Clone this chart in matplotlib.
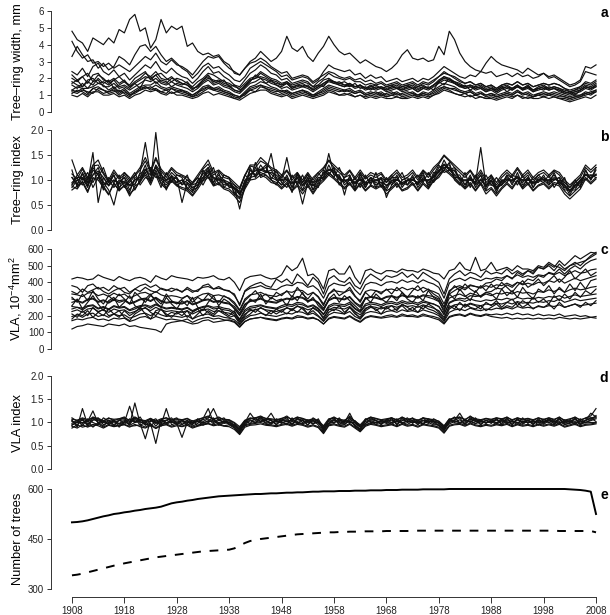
import numpy as np
import matplotlib.pyplot as plt

plt.rcParams['font.family'] = ['Liberation Sans', 'DejaVu Sans']
plt.rcParams['mathtext.fontset'] = 'custom'
plt.rcParams['mathtext.rm'] = 'Liberation Sans'
plt.rcParams['mathtext.it'] = 'Liberation Sans'

years = list(range(1908, 2009))

# a: tree-ring width, mm (a few representative series)
ring_width = [
    [1.0, 0.9, 1.1, 0.9, 1.2, 1.2, 1.0, 1.0, 1.1, 0.9, 1.0, 0.8, 1.0, 1.1, 1.3, 1.2, 1.3, 1.1, 1.0, 1.2,
     1.0, 1.0, 0.9, 0.8, 0.9, 1.1, 1.2, 1.0, 1.1, 1.0, 0.9, 0.8, 0.7, 0.9, 1.1, 1.2, 1.3, 1.3, 1.1, 1.0,
     0.9, 1.0, 0.8, 0.9, 1.0, 0.9, 0.8, 0.9, 1.0, 1.2, 1.1, 1.0, 1.0, 1.1, 0.9, 1.0, 0.8, 0.9, 0.8, 0.9,
     0.8, 0.8, 0.9, 0.8, 0.8, 0.9, 0.8, 0.9, 0.8, 1.0, 1.1, 1.3, 1.2, 1.1, 1.0, 0.9, 1.0, 0.8, 0.9, 0.8,
     0.8, 0.7, 0.8, 0.9, 0.8, 1.0, 0.8, 0.9, 0.8, 0.8, 0.9, 0.8, 0.9, 0.8, 0.7, 0.6, 0.7, 0.8, 0.9, 0.8, 1.0],
    [1.3, 1.2, 1.4, 1.1, 1.4, 1.5, 1.3, 1.2, 1.4, 1.1, 1.3, 1.0, 1.2, 1.4, 1.5, 1.4, 1.6, 1.4, 1.3, 1.4,
     1.3, 1.2, 1.1, 0.9, 1.1, 1.4, 1.5, 1.3, 1.4, 1.2, 1.1, 0.9, 0.8, 1.1, 1.4, 1.5, 1.6, 1.5, 1.4, 1.3,
     1.1, 1.2, 1.0, 1.1, 1.2, 1.1, 0.9, 1.1, 1.3, 1.5, 1.4, 1.3, 1.2, 1.3, 1.1, 1.2, 1.0, 1.1, 1.0, 1.1,
     0.9, 1.0, 1.1, 0.9, 1.0, 1.1, 0.9, 1.1, 1.0, 1.2, 1.4, 1.5, 1.4, 1.4, 1.2, 1.1, 1.2, 1.0, 1.1, 0.9,
     1.0, 0.9, 1.0, 1.1, 1.0, 1.2, 1.0, 1.1, 0.9, 1.0, 1.1, 1.0, 1.1, 1.0, 0.9, 0.8, 0.9, 0.9, 1.1, 1.0, 1.2],
    [1.6, 1.4, 1.7, 1.4, 1.8, 1.9, 1.5, 1.5, 1.7, 1.4, 1.5, 1.3, 1.5, 1.7, 1.9, 1.8, 2.0, 1.7, 1.6, 1.8,
     1.6, 1.5, 1.4, 1.2, 1.4, 1.7, 1.9, 1.6, 1.7, 1.5, 1.4, 1.2, 1.1, 1.4, 1.7, 1.8, 2.0, 1.9, 1.7, 1.6,
     1.4, 1.5, 1.3, 1.4, 1.5, 1.4, 1.2, 1.4, 1.6, 1.8, 1.7, 1.6, 1.5, 1.6, 1.4, 1.5, 1.3, 1.4, 1.3, 1.4,
     1.2, 1.3, 1.4, 1.2, 1.3, 1.4, 1.2, 1.4, 1.3, 1.5, 1.7, 1.9, 1.8, 1.7, 1.5, 1.4, 1.5, 1.3, 1.4, 1.2,
     1.3, 1.1, 1.3, 1.4, 1.3, 1.5, 1.3, 1.4, 1.2, 1.3, 1.4, 1.3, 1.4, 1.3, 1.1, 1.0, 1.1, 1.2, 1.4, 1.3, 1.5],
    [2.0, 1.8, 2.1, 1.7, 2.2, 2.3, 1.9, 1.8, 2.0, 1.7, 1.9, 1.5, 1.8, 2.0, 2.3, 2.1, 2.4, 2.0, 1.9, 2.1,
     1.8, 1.7, 1.6, 1.3, 1.6, 1.9, 2.2, 1.8, 1.9, 1.7, 1.6, 1.3, 1.2, 1.6, 1.9, 2.0, 2.3, 2.1, 1.9, 1.8,
     1.6, 1.7, 1.4, 1.5, 1.6, 1.5, 1.3, 1.5, 1.7, 1.9, 1.8, 1.7, 1.6, 1.7, 1.5, 1.6, 1.4, 1.5, 1.4, 1.5,
     1.3, 1.4, 1.5, 1.3, 1.4, 1.5, 1.3, 1.5, 1.4, 1.6, 1.8, 2.0, 1.9, 1.8, 1.6, 1.5, 1.6, 1.4, 1.5, 1.3,
     1.4, 1.2, 1.4, 1.5, 1.4, 1.6, 1.4, 1.5, 1.3, 1.4, 1.5, 1.4, 1.5, 1.4, 1.2, 1.1, 1.2, 1.3, 1.5, 1.4, 1.6],
    [2.4, 2.2, 2.6, 2.1, 2.7, 2.9, 2.4, 2.2, 2.5, 2.1, 2.3, 1.9, 2.2, 2.5, 2.8, 2.6, 3.0, 2.5, 2.3, 2.6,
     2.3, 2.1, 2.0, 1.7, 2.0, 2.4, 2.7, 2.3, 2.4, 2.1, 1.9, 1.6, 1.5, 1.9, 2.3, 2.5, 2.8, 2.6, 2.3, 2.2,
     1.9, 2.0, 1.7, 1.8, 1.9, 1.8, 1.5, 1.8, 2.0, 2.3, 2.1, 2.0, 1.9, 2.0, 1.8, 1.8, 1.6, 1.7, 1.6, 1.7,
     1.5, 1.6, 1.7, 1.5, 1.6, 1.7, 1.5, 1.7, 1.6, 1.8, 2.1, 2.4, 2.2, 2.1, 1.9, 1.7, 1.8, 1.6, 1.7, 1.5,
     1.6, 1.4, 1.6, 1.7, 1.6, 1.8, 1.6, 1.7, 1.5, 1.6, 1.7, 1.6, 1.7, 1.6, 1.4, 1.2, 1.3, 1.5, 1.8, 1.7, 1.9],
    [1.3, 1.5, 1.4, 1.4, 1.5, 1.7, 1.6, 1.3, 1.5, 1.2, 1.4, 1.1, 1.3, 1.5, 1.6, 1.6, 1.8, 1.5, 1.4, 1.5,
     1.4, 1.3, 1.2, 1.0, 1.2, 1.5, 1.6, 1.4, 1.5, 1.3, 1.2, 1.0, 0.9, 1.2, 1.5, 1.6, 1.8, 1.7, 1.5, 1.4,
     1.2, 1.3, 1.1, 1.2, 1.3, 1.2, 1.0, 1.2, 1.4, 1.6, 1.5, 1.4, 1.3, 1.4, 1.2, 1.3, 1.1, 1.2, 1.1, 1.2,
     1.0, 1.1, 1.2, 1.0, 1.1, 1.2, 1.0, 1.2, 1.1, 1.3, 1.5, 1.7, 1.6, 1.5, 1.3, 1.2, 1.3, 1.1, 1.2, 1.0,
     1.1, 1.0, 1.1, 1.2, 1.1, 1.3, 1.1, 1.2, 1.0, 1.1, 1.2, 1.1, 1.2, 1.1, 1.0, 0.9, 1.0, 1.0, 1.2, 1.1, 1.3],
    [1.7, 1.9, 1.5, 1.8, 1.6, 2.0, 1.7, 1.9, 1.4, 1.6, 1.8, 1.5, 1.7, 1.4, 2.0, 2.1, 1.7, 1.9, 1.8, 1.5,
     1.7, 1.6, 1.8, 1.4, 1.5, 1.9, 2.1, 1.7, 1.8, 1.9, 1.5, 1.6, 1.3, 1.5, 1.8, 2.2, 2.0, 1.7, 1.9, 1.6,
     1.5, 1.7, 1.4, 1.6, 1.7, 1.5, 1.4, 1.6, 1.5, 1.9, 1.7, 1.8, 1.6, 1.5, 1.7, 1.4, 1.5, 1.3, 1.5, 1.4,
     1.3, 1.5, 1.4, 1.3, 1.5, 1.4, 1.2, 1.4, 1.5, 1.3, 1.8, 1.6, 2.0, 1.7, 1.5, 1.6, 1.3, 1.5, 1.4, 1.2,
     1.4, 1.3, 1.5, 1.2, 1.4, 1.6, 1.3, 1.5, 1.2, 1.4, 1.3, 1.5, 1.4, 1.2, 1.1, 1.2, 1.0, 1.3, 1.5, 1.4, 1.6],
    [1.1, 1.3, 1.2, 1.0, 1.4, 1.3, 1.1, 1.2, 1.3, 1.0, 1.2, 1.0, 1.1, 1.3, 1.4, 1.5, 1.3, 1.2, 1.1, 1.4,
     1.2, 1.1, 1.0, 0.9, 1.0, 1.2, 1.4, 1.3, 1.2, 1.1, 1.0, 0.8, 0.9, 1.0, 1.3, 1.2, 1.5, 1.4, 1.2, 1.1,
     1.0, 1.1, 0.9, 1.0, 1.1, 1.0, 0.9, 1.0, 1.1, 1.3, 1.2, 1.0, 1.1, 1.0, 0.9, 1.0, 0.9, 1.0, 0.9, 1.0,
     0.9, 1.0, 0.9, 0.8, 0.9, 1.0, 0.9, 1.0, 0.9, 1.0, 1.2, 1.4, 1.3, 1.1, 1.0, 1.1, 0.9, 1.0, 0.9, 0.8,
     0.9, 0.8, 0.9, 1.0, 0.9, 1.0, 0.9, 0.8, 0.9, 1.0, 0.9, 1.0, 0.9, 0.8, 0.8, 0.7, 0.8, 0.9, 1.0, 1.1, 1.2],
    [2.2, 1.9, 2.1, 2.3, 1.8, 2.2, 2.0, 1.7, 1.9, 2.1, 1.8, 1.6, 2.0, 2.2, 2.4, 1.9, 2.2, 2.3, 2.0, 1.8,
     2.0, 1.9, 1.7, 1.5, 1.8, 2.0, 2.3, 2.2, 2.0, 1.8, 1.7, 1.5, 1.4, 1.7, 2.0, 2.1, 2.4, 2.2, 2.0, 1.9,
     1.7, 1.8, 1.6, 1.7, 1.8, 1.7, 1.5, 1.6, 1.9, 2.0, 1.8, 1.7, 1.8, 1.6, 1.5, 1.6, 1.4, 1.5, 1.6, 1.4,
     1.5, 1.6, 1.4, 1.5, 1.6, 1.4, 1.5, 1.6, 1.4, 1.6, 1.9, 2.1, 2.0, 1.8, 1.7, 1.5, 1.6, 1.5, 1.6, 1.4,
     1.5, 1.3, 1.5, 1.6, 1.4, 1.5, 1.4, 1.6, 1.3, 1.5, 1.6, 1.4, 1.5, 1.4, 1.3, 1.2, 1.3, 1.4, 1.6, 1.5, 1.7],
    [1.2, 1.1, 1.3, 1.2, 1.1, 1.4, 1.3, 1.1, 1.2, 1.3, 1.1, 0.9, 1.2, 1.3, 1.5, 1.3, 1.4, 1.2, 1.3, 1.1,
     1.2, 1.3, 1.1, 1.0, 1.2, 1.3, 1.5, 1.4, 1.3, 1.2, 1.1, 1.0, 0.9, 1.1, 1.3, 1.4, 1.6, 1.4, 1.3, 1.2,
     1.3, 1.2, 1.1, 1.2, 1.3, 1.1, 1.0, 1.1, 1.2, 1.4, 1.3, 1.2, 1.3, 1.2, 1.1, 1.2, 1.0, 1.1, 1.2, 1.0,
     1.1, 1.2, 1.0, 1.1, 1.2, 1.1, 1.0, 1.1, 1.0, 1.1, 1.3, 1.5, 1.4, 1.3, 1.2, 1.1, 1.2, 1.0, 1.1, 1.0,
     1.1, 0.9, 1.0, 1.1, 1.0, 1.2, 1.1, 1.0, 0.9, 1.1, 1.0, 1.1, 1.0, 0.9, 0.9, 0.8, 0.9, 1.0, 1.1, 1.2, 1.3],
    [1.8, 1.6, 1.5, 1.9, 2.0, 1.7, 1.8, 1.6, 1.9, 1.5, 1.6, 1.4, 1.7, 1.9, 2.1, 2.0, 2.2, 1.8, 1.7, 2.0,
     1.9, 1.7, 1.6, 1.4, 1.5, 1.8, 2.0, 1.9, 1.8, 1.6, 1.5, 1.3, 1.2, 1.5, 1.9, 2.0, 2.1, 2.0, 1.8, 1.7,
     1.6, 1.8, 1.5, 1.6, 1.5, 1.6, 1.3, 1.5, 1.7, 1.9, 1.8, 1.6, 1.5, 1.7, 1.5, 1.6, 1.4, 1.6, 1.4, 1.5,
     1.4, 1.5, 1.6, 1.4, 1.5, 1.6, 1.4, 1.5, 1.4, 1.6, 1.8, 2.1, 1.9, 1.7, 1.6, 1.4, 1.5, 1.4, 1.5, 1.3,
     1.4, 1.2, 1.4, 1.5, 1.3, 1.5, 1.4, 1.5, 1.3, 1.4, 1.5, 1.3, 1.4, 1.3, 1.2, 1.1, 1.2, 1.3, 1.5, 1.4, 1.5],
    [4.8, 4.3, 4.1, 3.6, 4.4, 4.2, 4.0, 4.4, 4.1, 4.9, 4.7, 5.5, 5.8, 4.8, 5.0, 3.8, 4.3, 5.5, 4.7, 5.1,
     4.9, 5.1, 3.9, 4.1, 3.6, 3.4, 3.5, 3.3, 3.4, 3.0, 2.8, 2.3, 2.2, 2.6, 2.9, 3.0, 3.2, 3.0, 2.7, 2.5,
     2.3, 2.4, 2.0, 2.1, 2.2, 2.1, 1.8, 2.0, 2.2, 2.4, 2.3, 2.1, 2.0, 2.1, 1.9, 2.0, 1.8, 1.9, 1.7, 1.8,
     1.6, 1.7, 1.8, 1.6, 1.7, 1.8, 1.6, 1.8, 1.7, 1.9, 2.1, 2.3, 2.2, 2.0, 1.8, 1.7, 1.8, 1.6, 1.7, 1.5,
     1.6, 1.4, 1.6, 1.7, 1.6, 1.8, 1.6, 1.7, 1.5, 1.6, 1.7, 1.6, 1.7, 1.6, 1.4, 1.3, 1.4, 1.5, 1.7, 1.6, 1.8],
    [4.2, 3.6, 3.2, 3.4, 2.9, 3.0, 2.7, 2.9, 2.6, 2.8, 2.6, 2.4, 2.7, 3.0, 3.3, 3.1, 3.5, 3.0, 2.8, 3.1,
     2.8, 2.7, 2.5, 2.2, 2.6, 3.0, 3.3, 3.2, 3.3, 2.9, 2.6, 2.4, 2.2, 2.6, 3.0, 3.2, 3.6, 3.3, 3.0, 3.2,
     3.6, 4.5, 3.8, 3.6, 3.9, 3.3, 3.0, 3.5, 3.9, 4.5, 4.0, 3.6, 3.4, 3.5, 3.2, 2.9, 3.1, 2.9, 2.7, 2.6,
     2.4, 2.6, 2.9, 3.4, 3.7, 3.2, 3.1, 3.2, 3.0, 3.1, 3.9, 3.4, 4.8, 4.3, 3.5, 3.0, 2.7, 2.5, 2.4, 2.3,
     2.4, 2.1, 2.2, 2.3, 2.1, 2.3, 2.1, 2.2, 2.0, 2.1, 2.3, 2.1, 2.2, 2.0, 1.8, 1.6, 1.7, 1.9, 2.7, 2.6, 2.8],
    [3.3, 3.9, 3.4, 3.0, 3.1, 2.6, 2.9, 2.5, 2.7, 3.3, 3.1, 2.8, 3.4, 3.9, 4.0, 3.6, 3.9, 3.4, 3.0, 3.2,
     2.9, 2.6, 2.4, 2.0, 2.3, 2.7, 2.9, 2.6, 2.7, 2.4, 2.2, 1.9, 1.8, 2.1, 2.6, 2.8, 3.0, 2.8, 2.6, 2.4,
     2.1, 2.2, 1.9, 2.0, 2.1, 2.0, 1.7, 1.9, 2.4, 2.8, 2.6, 2.5, 2.4, 2.5, 2.2, 2.3, 2.0, 2.2, 2.0, 2.1,
     1.8, 1.9, 2.0, 1.8, 1.9, 2.0, 1.8, 2.0, 1.9, 2.1, 2.4, 2.7, 2.5, 2.3, 2.1, 2.0, 2.2, 2.1, 2.4, 2.9,
     3.3, 3.0, 2.8, 2.7, 2.6, 2.5, 2.3, 2.6, 2.4, 2.2, 2.3, 2.0, 2.1, 1.9, 1.7, 1.5, 1.6, 1.8, 2.4, 2.3, 2.2],
]

# b: tree-ring index
ring_index = [
    [0.88, 0.82, 0.98, 0.78, 1.02, 1.05, 0.88, 0.72, 0.92, 0.80, 0.88, 0.72, 0.82, 0.98, 1.10, 0.90, 1.15, 0.92, 0.82, 0.98,
     0.88, 0.82, 0.78, 0.68, 0.82, 0.98, 1.05, 0.88, 0.92, 0.82, 0.78, 0.68, 0.55, 0.82, 1.00, 1.02, 1.10, 1.05, 0.95, 0.92,
     0.82, 0.92, 0.78, 0.88, 0.72, 0.88, 0.72, 0.88, 0.98, 1.10, 1.02, 0.92, 0.82, 0.92, 0.78, 0.92, 0.78, 0.88, 0.82, 0.88,
     0.72, 0.82, 0.92, 0.78, 0.82, 0.92, 0.78, 0.92, 0.82, 0.98, 1.05, 1.20, 1.12, 1.02, 0.92, 0.82, 0.92, 0.78, 0.92, 0.72,
     0.82, 0.68, 0.82, 0.92, 0.82, 0.98, 0.82, 0.92, 0.78, 0.88, 0.92, 0.82, 0.92, 0.88, 0.72, 0.62, 0.72, 0.82, 1.02, 0.92, 1.02],
    [1.12, 1.02, 1.22, 1.00, 1.28, 1.30, 1.12, 0.95, 1.15, 1.02, 1.10, 0.95, 1.08, 1.20, 1.38, 1.15, 1.42, 1.18, 1.05, 1.22,
     1.10, 1.08, 1.00, 0.92, 1.05, 1.22, 1.32, 1.10, 1.18, 1.05, 1.02, 0.90, 0.82, 1.08, 1.28, 1.25, 1.38, 1.32, 1.22, 1.15,
     1.05, 1.18, 1.00, 1.12, 0.95, 1.12, 0.95, 1.10, 1.22, 1.38, 1.25, 1.15, 1.05, 1.18, 1.00, 1.15, 1.02, 1.10, 1.05, 1.12,
     0.95, 1.05, 1.15, 1.00, 1.05, 1.15, 1.00, 1.18, 1.05, 1.20, 1.32, 1.48, 1.38, 1.25, 1.15, 1.05, 1.18, 1.00, 1.15, 0.95,
     1.05, 0.90, 1.05, 1.15, 1.05, 1.22, 1.05, 1.15, 1.00, 1.10, 1.15, 1.05, 1.18, 1.10, 0.95, 0.85, 0.95, 1.05, 1.25, 1.15, 1.25],
    [0.95, 1.05, 1.05, 0.85, 1.20, 1.10, 0.95, 0.80, 0.50, 0.95, 1.05, 0.80, 1.00, 1.05, 1.30, 0.95, 1.95, 1.00, 0.90, 1.05,
     0.95, 1.00, 0.85, 0.75, 1.00, 1.05, 1.15, 1.05, 1.00, 0.90, 0.95, 0.75, 0.65, 1.00, 1.10, 1.20, 1.20, 1.25, 1.05, 1.00,
     0.90, 1.10, 0.85, 1.05, 0.80, 1.05, 0.80, 0.95, 1.15, 1.20, 1.20, 1.00, 1.00, 1.00, 0.95, 1.00, 0.85, 1.05, 0.90, 0.95,
     0.80, 1.00, 1.00, 0.95, 0.90, 1.10, 0.85, 1.00, 1.00, 1.05, 1.25, 1.30, 1.30, 1.10, 1.10, 0.90, 1.10, 0.85, 1.00, 0.90,
     0.90, 0.85, 0.90, 1.10, 0.90, 1.15, 0.90, 1.00, 0.95, 0.95, 1.10, 0.90, 1.00, 1.05, 0.80, 0.80, 0.80, 1.00, 1.10, 1.10, 1.10],
    [1.05, 0.90, 1.15, 0.95, 1.55, 0.55, 1.05, 0.90, 1.10, 0.85, 0.95, 0.90, 0.90, 1.15, 1.75, 1.10, 1.25, 1.10, 1.00, 1.15,
     1.05, 0.55, 0.95, 0.85, 0.90, 1.15, 1.25, 0.95, 1.10, 1.00, 0.85, 0.85, 0.42, 0.90, 1.20, 1.10, 1.30, 1.15, 1.15, 1.10,
     1.00, 1.45, 0.95, 0.95, 0.52, 0.95, 0.90, 1.05, 1.05, 1.30, 1.10, 1.10, 0.70, 1.10, 0.85, 1.10, 0.95, 0.95, 1.00, 1.05,
     0.65, 0.90, 1.10, 0.85, 1.00, 1.00, 0.95, 1.10, 0.90, 1.15, 1.15, 1.40, 1.20, 1.20, 1.00, 1.00, 1.00, 0.95, 1.10, 0.80,
     1.00, 0.75, 1.00, 1.00, 1.00, 1.05, 1.00, 1.10, 0.85, 1.05, 1.00, 1.00, 1.10, 0.95, 0.90, 0.70, 0.90, 0.90, 1.20, 1.00, 1.20],
    [0.92, 1.00, 1.05, 0.95, 1.10, 1.25, 0.95, 0.90, 1.00, 0.95, 1.05, 0.90, 1.00, 1.05, 1.20, 1.10, 1.25, 1.10, 1.00, 1.05,
     0.95, 1.00, 0.95, 0.85, 0.90, 1.05, 1.25, 1.05, 1.00, 1.00, 0.95, 0.85, 0.75, 0.90, 1.20, 1.10, 1.20, 1.15, 1.53, 1.00,
     0.90, 1.00, 0.95, 1.05, 0.90, 1.05, 0.80, 1.05, 1.05, 1.53, 1.10, 1.10, 0.90, 1.00, 0.95, 1.00, 0.95, 1.05, 1.00, 0.95,
     0.90, 0.95, 1.00, 0.95, 1.00, 1.00, 0.95, 1.00, 1.00, 1.05, 1.15, 1.30, 1.20, 1.10, 1.00, 1.00, 1.00, 0.95, 1.65, 0.90,
     1.00, 0.85, 0.90, 1.00, 1.00, 1.05, 1.00, 1.00, 0.95, 1.00, 1.00, 1.00, 1.00, 1.05, 0.90, 0.80, 0.90, 1.00, 1.10, 1.05, 1.10],
    [0.80, 0.88, 0.95, 0.75, 1.05, 1.00, 0.85, 0.70, 0.95, 0.78, 0.90, 0.68, 0.88, 0.95, 1.15, 0.95, 1.20, 0.95, 0.85, 1.00,
     0.90, 0.85, 0.82, 0.70, 0.88, 1.00, 1.10, 0.90, 0.95, 0.85, 0.82, 0.72, 0.62, 0.85, 1.05, 1.08, 1.15, 1.10, 1.00, 0.95,
     0.85, 0.95, 0.80, 0.92, 0.78, 0.92, 0.75, 0.92, 1.02, 1.15, 1.05, 0.95, 0.85, 0.95, 0.80, 0.95, 0.80, 0.90, 0.85, 0.90,
     0.78, 0.85, 0.95, 0.80, 0.85, 0.95, 0.80, 0.95, 0.85, 1.00, 1.10, 1.25, 1.15, 1.05, 0.95, 0.85, 0.95, 0.80, 0.95, 0.78,
     0.85, 0.72, 0.85, 0.95, 0.85, 1.00, 0.85, 0.95, 0.80, 0.90, 0.95, 0.85, 0.95, 0.92, 0.78, 0.68, 0.78, 0.88, 1.05, 0.95, 1.05],
    [1.40, 1.10, 1.25, 1.05, 1.30, 1.40, 1.15, 1.00, 1.20, 1.05, 1.15, 1.00, 1.10, 1.25, 1.45, 1.20, 1.45, 1.22, 1.10, 1.25,
     1.15, 1.10, 1.05, 0.95, 1.10, 1.25, 1.40, 1.15, 1.20, 1.10, 1.05, 0.95, 0.85, 1.10, 1.30, 1.30, 1.45, 1.35, 1.25, 1.20,
     1.10, 1.20, 1.05, 1.15, 1.00, 1.15, 1.00, 1.15, 1.25, 1.40, 1.30, 1.20, 1.10, 1.20, 1.05, 1.20, 1.05, 1.15, 1.10, 1.15,
     1.00, 1.10, 1.20, 1.05, 1.10, 1.20, 1.05, 1.20, 1.10, 1.25, 1.35, 1.50, 1.40, 1.30, 1.20, 1.10, 1.20, 1.05, 1.20, 1.00,
     1.10, 0.95, 1.10, 1.20, 1.10, 1.25, 1.10, 1.20, 1.05, 1.15, 1.20, 1.10, 1.20, 1.15, 1.00, 0.90, 1.00, 1.10, 1.30, 1.20, 1.30],
    [1.05, 0.92, 1.12, 0.88, 1.10, 1.18, 1.05, 0.88, 1.00, 0.92, 0.98, 0.88, 0.92, 1.12, 1.22, 1.02, 1.28, 1.02, 0.98, 1.08,
     1.02, 0.92, 0.92, 0.78, 0.98, 1.12, 1.18, 1.02, 1.02, 0.98, 0.88, 0.82, 0.72, 0.98, 1.12, 1.18, 1.22, 1.18, 1.12, 1.02,
     0.98, 1.02, 0.92, 0.98, 0.88, 0.98, 0.88, 0.98, 1.12, 1.22, 1.18, 1.02, 0.98, 1.02, 0.92, 1.02, 0.92, 0.98, 0.98, 1.02,
     0.88, 0.98, 1.02, 0.92, 0.98, 1.02, 0.92, 1.02, 0.98, 1.08, 1.18, 1.32, 1.22, 1.18, 1.02, 0.98, 1.02, 0.92, 1.02, 0.88,
     0.98, 0.82, 0.98, 1.02, 0.98, 1.08, 0.98, 1.02, 0.92, 0.98, 1.02, 0.98, 1.02, 0.98, 0.88, 0.78, 0.88, 0.98, 1.12, 1.02, 1.12],
    [0.90, 1.10, 1.00, 1.15, 0.85, 1.05, 1.25, 0.95, 1.10, 0.80, 1.15, 1.05, 0.80, 1.00, 1.20, 1.25, 1.10, 0.85, 1.15, 0.95,
     1.10, 1.05, 0.80, 0.95, 1.05, 0.90, 1.10, 1.25, 0.90, 1.10, 1.05, 0.70, 0.80, 1.10, 1.00, 1.35, 1.05, 1.10, 1.00, 1.20,
     0.95, 0.85, 1.10, 0.90, 1.10, 0.85, 1.05, 1.15, 1.00, 1.15, 1.05, 1.25, 1.00, 0.90, 1.05, 0.85, 1.10, 0.90, 1.15, 0.85,
     1.05, 0.90, 1.00, 1.15, 0.90, 1.00, 1.10, 0.95, 1.15, 0.95, 1.10, 1.20, 1.35, 1.00, 0.90, 1.15, 0.85, 1.10, 0.90, 1.10,
     0.90, 1.05, 0.90, 1.10, 1.05, 0.90, 1.10, 0.90, 1.05, 1.00, 0.95, 1.10, 0.85, 1.00, 0.95, 0.85, 1.00, 0.85, 1.20, 1.00, 1.25],
    [1.20, 0.85, 1.05, 0.90, 1.25, 1.10, 0.80, 1.05, 0.95, 1.10, 0.85, 1.00, 1.15, 0.90, 1.05, 1.00, 1.30, 1.15, 0.80, 1.10,
     0.90, 0.95, 1.10, 0.80, 0.85, 1.20, 1.05, 0.95, 1.15, 0.85, 0.95, 0.90, 0.75, 0.85, 1.25, 1.05, 1.20, 1.30, 1.00, 0.90,
     1.10, 1.00, 0.75, 1.15, 0.95, 1.10, 0.90, 0.85, 1.20, 1.10, 1.25, 0.90, 1.05, 1.10, 0.80, 1.15, 0.85, 1.05, 0.85, 1.05,
     0.95, 1.10, 0.85, 1.00, 1.05, 0.90, 0.95, 1.15, 0.85, 1.10, 1.30, 1.15, 1.20, 1.25, 1.00, 0.85, 1.05, 0.95, 1.10, 0.85,
     1.10, 0.85, 1.00, 0.95, 1.10, 1.05, 0.85, 1.05, 0.95, 1.10, 1.00, 0.90, 1.15, 0.90, 1.05, 0.75, 0.95, 1.05, 1.00, 1.10, 1.05],
    [0.85, 1.00, 0.90, 1.05, 0.95, 1.15, 0.90, 1.00, 0.85, 1.00, 0.95, 0.75, 1.05, 1.00, 1.15, 1.20, 1.05, 1.05, 0.95, 1.00,
     1.05, 0.90, 1.00, 0.90, 0.95, 1.00, 1.20, 0.90, 1.05, 0.95, 0.90, 0.85, 0.70, 0.95, 1.05, 1.25, 1.10, 1.15, 1.20, 1.05,
     1.00, 1.05, 0.85, 1.10, 0.90, 1.00, 0.95, 1.00, 1.05, 1.20, 1.15, 1.05, 0.95, 1.05, 0.95, 1.05, 0.90, 1.00, 0.95, 0.90,
     0.85, 1.05, 1.05, 0.90, 1.00, 1.05, 0.90, 1.05, 0.95, 1.00, 1.20, 1.25, 1.25, 1.05, 1.05, 0.90, 1.05, 0.90, 1.00, 0.90,
     1.00, 0.80, 0.95, 1.05, 0.95, 1.05, 0.95, 1.05, 0.85, 1.00, 1.05, 0.95, 1.05, 0.95, 0.85, 0.80, 0.85, 0.95, 1.10, 1.05, 1.10],
]

# c: vessel lumen area, 10^-4 mm^2
vla = [
    [420, 430, 425, 415, 420, 445, 430, 420, 410, 435, 420, 410, 425, 430, 420, 400, 440, 425, 415, 440,
     430, 425, 420, 410, 430, 425, 430, 440, 420, 415, 430, 400, 350, 420, 435, 440, 445, 430, 420, 425,
     445, 500, 470, 490, 545, 440, 450, 420, 360, 470, 480, 450, 450, 500, 430, 390, 470, 480, 460, 450,
     470, 470, 460, 480, 470, 470, 460, 480, 470, 455, 450, 420, 470, 480, 520, 480, 470, 550, 470, 480,
     520, 470, 480, 490, 470, 500, 480, 480, 470, 500, 490, 520, 500, 490, 470, 500, 510, 520, 530, 550, 570],
    [380, 370, 340, 380, 390, 360, 370, 350, 380, 360, 370, 340, 360, 380, 390, 370, 385, 360, 350, 365,
     355, 345, 360, 340, 355, 370, 375, 360, 365, 355, 350, 320, 270, 345, 365, 370, 380, 365, 360, 355,
     375, 385, 380, 400, 395, 370, 380, 355, 305, 375, 395, 385, 380, 400, 355, 325, 385, 400, 395, 380,
     400, 405, 395, 415, 400, 410, 395, 415, 400, 390, 370, 305, 395, 415, 425, 410, 430, 420, 410, 425,
     420, 430, 425, 440, 425, 445, 430, 440, 430, 445, 440, 455, 445, 460, 440, 455, 470, 455, 460, 475, 480],
    [330, 325, 315, 335, 340, 320, 330, 315, 335, 320, 330, 305, 320, 335, 340, 325, 345, 325, 315, 320,
     315, 305, 320, 300, 315, 330, 335, 320, 325, 315, 305, 280, 235, 300, 325, 330, 340, 325, 320, 315,
     330, 345, 340, 355, 350, 325, 340, 315, 270, 330, 350, 345, 340, 355, 315, 290, 345, 355, 350, 340,
     355, 360, 350, 370, 355, 365, 350, 370, 355, 345, 330, 270, 350, 370, 380, 365, 385, 375, 365, 380,
     370, 385, 380, 395, 380, 400, 385, 395, 385, 400, 395, 410, 400, 420, 395, 410, 425, 410, 420, 430, 440],
    [280, 290, 275, 295, 300, 280, 290, 275, 295, 280, 290, 270, 280, 295, 300, 285, 305, 285, 275, 280,
     275, 270, 285, 265, 275, 290, 295, 280, 285, 275, 270, 245, 205, 265, 285, 290, 300, 285, 280, 275,
     290, 300, 295, 310, 305, 285, 295, 275, 235, 290, 305, 300, 295, 310, 275, 250, 300, 310, 305, 295,
     310, 315, 305, 320, 310, 315, 305, 320, 310, 300, 285, 235, 305, 320, 330, 315, 335, 325, 315, 330,
     320, 335, 330, 340, 330, 345, 335, 340, 330, 345, 340, 355, 345, 360, 340, 355, 365, 355, 360, 370, 375],
    [255, 250, 245, 260, 265, 245, 255, 240, 260, 250, 255, 235, 250, 260, 265, 255, 270, 255, 245, 250,
     245, 240, 250, 230, 245, 255, 260, 250, 255, 245, 240, 220, 180, 235, 255, 260, 265, 255, 250, 245,
     260, 270, 265, 280, 275, 255, 265, 245, 210, 260, 275, 270, 265, 280, 245, 225, 270, 280, 275, 265,
     280, 285, 275, 290, 280, 285, 275, 290, 280, 270, 255, 210, 275, 290, 295, 285, 300, 290, 285, 295,
     290, 300, 295, 305, 295, 310, 300, 305, 300, 310, 305, 315, 310, 320, 305, 315, 325, 315, 320, 325, 330],
    [225, 235, 220, 240, 245, 225, 235, 220, 240, 230, 235, 215, 225, 240, 245, 230, 250, 235, 225, 230,
     225, 220, 230, 210, 225, 235, 240, 225, 230, 220, 215, 200, 165, 210, 230, 235, 245, 235, 230, 225,
     235, 245, 240, 255, 250, 235, 245, 225, 190, 235, 250, 245, 240, 255, 225, 205, 245, 255, 250, 240,
     255, 260, 250, 265, 255, 260, 250, 265, 255, 245, 230, 190, 250, 265, 270, 260, 275, 265, 260, 270,
     265, 275, 270, 280, 270, 285, 275, 280, 275, 285, 280, 290, 285, 300, 280, 290, 300, 290, 295, 300, 305],
    [195, 205, 190, 210, 215, 195, 205, 190, 210, 200, 205, 185, 195, 210, 215, 200, 220, 205, 195, 200,
     195, 190, 200, 180, 195, 205, 210, 195, 200, 190, 185, 175, 145, 180, 200, 205, 215, 205, 200, 195,
     205, 215, 210, 225, 220, 205, 215, 195, 165, 205, 220, 215, 210, 225, 195, 180, 215, 225, 220, 210,
     225, 230, 220, 235, 225, 230, 220, 235, 225, 215, 200, 165, 220, 235, 240, 230, 245, 235, 230, 240,
     235, 245, 240, 250, 240, 255, 245, 250, 245, 255, 250, 260, 255, 265, 250, 260, 270, 260, 265, 270, 275],
    [120, 135, 140, 150, 145, 140, 135, 150, 145, 140, 150, 135, 140, 130, 125, 120, 115, 100, 150, 160,
     165, 170, 160, 150, 155, 170, 175, 160, 165, 170, 175, 165, 135, 165, 180, 185, 190, 180, 175, 170,
     180, 185, 180, 190, 190, 180, 185, 175, 150, 180, 190, 185, 180, 195, 175, 160, 185, 195, 190, 185,
     190, 195, 190, 200, 195, 195, 190, 200, 195, 185, 175, 150, 190, 200, 205, 195, 210, 200, 195, 205,
     195, 190, 185, 190, 180, 185, 180, 185, 180, 185, 180, 185, 180, 190, 185, 180, 185, 180, 185, 190, 195],
    [300, 290, 280, 300, 305, 285, 295, 280, 300, 290, 295, 275, 285, 300, 305, 290, 310, 290, 280, 285,
     280, 275, 290, 270, 280, 295, 300, 285, 290, 280, 275, 255, 215, 270, 290, 295, 305, 290, 285, 280,
     295, 305, 300, 315, 310, 290, 300, 280, 245, 295, 310, 305, 300, 315, 280, 260, 305, 315, 310, 300,
     315, 320, 310, 325, 315, 320, 310, 325, 320, 315, 300, 250, 330, 350, 370, 355, 380, 375, 370, 395,
     400, 420, 410, 440, 420, 460, 440, 470, 450, 490, 480, 510, 490, 530, 500, 530, 560, 540, 560, 580, 575],
    [240, 250, 235, 255, 260, 240, 250, 235, 255, 245, 250, 230, 240, 255, 260, 245, 265, 250, 240, 245,
     240, 235, 245, 225, 240, 250, 255, 240, 245, 235, 230, 210, 175, 225, 245, 250, 260, 250, 245, 240,
     250, 260, 255, 270, 265, 250, 260, 240, 205, 250, 265, 260, 255, 270, 240, 220, 260, 270, 265, 255,
     270, 275, 265, 280, 270, 275, 265, 280, 275, 270, 255, 205, 280, 295, 305, 300, 320, 315, 320, 340,
     345, 365, 360, 385, 370, 400, 390, 420, 410, 440, 430, 460, 450, 480, 450, 480, 500, 480, 510, 530, 540],
    [345, 330, 360, 340, 355, 370, 345, 330, 350, 365, 340, 330, 360, 345, 370, 350, 340, 365, 355, 345,
     360, 340, 370, 350, 345, 380, 390, 360, 375, 355, 345, 330, 260, 350, 375, 390, 400, 380, 370, 420,
     400, 420, 390, 450, 420, 380, 430, 400, 330, 420, 440, 410, 400, 430, 380, 360, 420, 450, 430, 410,
     440, 430, 440, 460, 430, 450, 420, 460, 440, 420, 400, 330, 420, 450, 470, 440, 460, 450, 430, 470,
     450, 460, 450, 480, 450, 470, 450, 470, 460, 490, 480, 500, 470, 510, 480, 500, 520, 500, 530, 560, 580],
    [170, 180, 175, 185, 190, 175, 180, 170, 185, 180, 185, 165, 175, 190, 195, 180, 195, 185, 175, 180,
     175, 170, 180, 160, 175, 185, 190, 180, 185, 175, 170, 160, 130, 165, 180, 185, 190, 185, 180, 175,
     185, 190, 185, 200, 195, 185, 190, 175, 150, 185, 195, 190, 185, 200, 180, 165, 190, 200, 195, 190,
     200, 205, 195, 210, 200, 205, 195, 210, 200, 195, 185, 155, 195, 205, 210, 200, 215, 205, 200, 210,
     205, 210, 205, 215, 205, 215, 205, 210, 200, 210, 200, 205, 200, 210, 195, 200, 205, 195, 200, 190, 185],
    [260, 300, 240, 280, 320, 270, 230, 290, 310, 250, 280, 320, 260, 240, 300, 330, 280, 250, 310, 270,
     240, 290, 260, 310, 250, 230, 280, 320, 260, 300, 280, 240, 200, 250, 300, 280, 330, 270, 310, 290,
     300, 260, 320, 290, 340, 280, 310, 260, 230, 300, 330, 280, 320, 290, 260, 230, 310, 280, 330, 300,
     280, 320, 290, 340, 300, 280, 320, 290, 350, 310, 290, 220, 330, 300, 360, 320, 290, 350, 310, 340,
     330, 300, 360, 320, 350, 310, 370, 330, 300, 360, 340, 380, 330, 370, 340, 390, 350, 400, 360, 410, 420],
    [210, 190, 230, 200, 250, 220, 200, 240, 210, 190, 230, 200, 220, 250, 210, 180, 230, 240, 200, 220,
     210, 230, 190, 220, 240, 200, 230, 210, 250, 220, 200, 230, 160, 200, 240, 220, 250, 230, 210, 240,
     220, 250, 230, 260, 240, 210, 250, 230, 180, 240, 230, 260, 220, 250, 210, 190, 240, 260, 230, 250,
     240, 260, 230, 270, 250, 230, 260, 240, 270, 250, 220, 180, 260, 240, 280, 250, 270, 260, 240, 280,
     260, 290, 250, 280, 300, 260, 290, 270, 310, 280, 300, 270, 320, 290, 330, 300, 340, 310, 350, 330, 360],
    [310, 280, 330, 290, 350, 300, 270, 320, 290, 330, 300, 270, 340, 310, 280, 320, 300, 270, 330, 290,
     270, 300, 320, 280, 310, 290, 330, 300, 280, 320, 300, 270, 230, 290, 320, 350, 310, 330, 300, 340,
     320, 350, 310, 370, 330, 300, 340, 310, 260, 330, 360, 320, 340, 370, 320, 280, 340, 310, 350, 330,
     360, 330, 370, 340, 310, 350, 380, 340, 360, 330, 310, 250, 340, 380, 350, 390, 360, 340, 380, 350,
     390, 360, 400, 370, 340, 380, 410, 370, 390, 420, 380, 410, 440, 400, 430, 470, 420, 450, 480, 440, 460],
    [180, 210, 200, 230, 190, 220, 240, 200, 210, 230, 190, 170, 210, 230, 250, 220, 200, 240, 210, 190,
     220, 200, 230, 180, 210, 240, 220, 200, 230, 210, 190, 200, 150, 190, 210, 240, 220, 200, 230, 210,
     230, 210, 240, 220, 250, 210, 230, 200, 170, 220, 240, 230, 210, 250, 220, 180, 230, 250, 240, 210,
     250, 230, 240, 260, 230, 250, 220, 260, 240, 230, 210, 170, 240, 260, 230, 270, 250, 240, 260, 230,
     250, 270, 240, 260, 250, 280, 250, 270, 240, 260, 250, 270, 240, 280, 250, 260, 270, 250, 280, 260, 290],
]

# d: VLA index
vla_index = [
    [0.92, 0.88, 0.95, 0.90, 0.96, 0.93, 0.88, 0.94, 0.91, 0.93, 0.95, 0.90, 0.96, 0.91, 0.88, 0.94, 0.87, 0.93, 0.95, 0.90,
     0.93, 0.91, 0.94, 0.88, 0.92, 0.95, 0.97, 0.93, 0.95, 0.92, 0.91, 0.85, 0.74, 0.90, 0.94, 0.95, 0.97, 0.94, 0.93, 0.91,
     0.94, 0.96, 0.92, 0.96, 0.94, 0.90, 0.93, 0.89, 0.76, 0.93, 0.95, 0.92, 0.90, 0.96, 0.88, 0.80, 0.92, 0.96, 0.94, 0.91,
     0.93, 0.95, 0.91, 0.96, 0.92, 0.94, 0.90, 0.95, 0.93, 0.91, 0.88, 0.77, 0.92, 0.95, 0.96, 0.92, 0.97, 0.93, 0.91, 0.94,
     0.92, 0.95, 0.93, 0.96, 0.91, 0.95, 0.92, 0.94, 0.91, 0.95, 0.92, 0.95, 0.92, 0.96, 0.90, 0.93, 0.96, 0.91, 0.94, 0.95, 0.97],
    [1.07, 1.05, 1.10, 1.06, 1.10, 1.09, 1.04, 1.09, 1.07, 1.08, 1.10, 1.05, 1.12, 1.06, 1.04, 1.09, 1.03, 1.08, 1.10, 1.05,
     1.08, 1.06, 1.09, 1.03, 1.07, 1.10, 1.12, 1.08, 1.10, 1.07, 1.06, 1.00, 0.91, 1.05, 1.09, 1.10, 1.12, 1.09, 1.08, 1.06,
     1.09, 1.11, 1.07, 1.11, 1.09, 1.05, 1.08, 1.04, 0.93, 1.08, 1.10, 1.07, 1.05, 1.11, 1.03, 0.95, 1.07, 1.11, 1.09, 1.06,
     1.08, 1.10, 1.06, 1.11, 1.07, 1.09, 1.05, 1.10, 1.08, 1.06, 1.03, 0.93, 1.07, 1.10, 1.11, 1.07, 1.12, 1.08, 1.06, 1.09,
     1.07, 1.10, 1.08, 1.11, 1.06, 1.10, 1.07, 1.09, 1.06, 1.10, 1.07, 1.10, 1.07, 1.11, 1.05, 1.08, 1.11, 1.06, 1.09, 1.10, 1.12],
    [1.05, 0.90, 1.30, 0.95, 1.10, 1.00, 0.92, 1.05, 0.95, 1.05, 1.10, 0.95, 1.42, 0.98, 0.65, 1.05, 1.00, 0.95, 1.30, 0.95,
     1.00, 0.95, 1.05, 0.92, 0.98, 1.08, 1.30, 1.00, 1.08, 0.98, 1.00, 0.90, 0.78, 1.00, 1.10, 1.05, 1.10, 1.00, 1.05, 0.95,
     1.05, 1.10, 0.95, 1.08, 1.05, 0.95, 1.05, 0.95, 0.80, 1.05, 1.10, 0.95, 0.95, 1.10, 0.92, 0.85, 1.05, 1.10, 1.05, 0.95,
     1.05, 1.10, 0.95, 1.10, 1.00, 1.05, 0.95, 1.10, 1.00, 0.95, 0.95, 0.85, 1.05, 1.05, 1.10, 0.95, 1.10, 1.05, 0.95, 1.05,
     1.00, 1.08, 0.98, 1.10, 0.95, 1.08, 0.98, 1.05, 0.95, 1.08, 0.98, 1.08, 0.98, 1.10, 0.95, 1.00, 1.10, 0.95, 1.05, 1.08, 1.10],
    [0.95, 1.00, 1.00, 1.02, 1.25, 0.98, 1.00, 0.98, 1.02, 0.97, 1.00, 1.35, 1.00, 1.02, 0.95, 0.98, 0.55, 1.05, 1.00, 1.02,
     0.98, 0.68, 1.00, 1.00, 1.02, 1.00, 1.02, 1.03, 1.00, 1.02, 0.97, 0.95, 0.85, 0.95, 0.98, 1.00, 1.02, 1.05, 0.98, 1.02,
     1.00, 1.02, 1.05, 1.00, 0.98, 1.02, 0.98, 1.00, 0.88, 0.98, 1.00, 1.05, 1.02, 1.00, 1.00, 0.90, 0.95, 1.00, 1.00, 1.02,
     0.98, 1.00, 1.02, 1.00, 1.02, 1.00, 1.02, 0.98, 1.03, 1.02, 1.00, 0.88, 0.97, 1.02, 1.00, 1.05, 1.02, 0.98, 1.02, 0.99,
     1.03, 1.00, 1.04, 1.00, 1.03, 1.00, 1.02, 1.00, 1.03, 1.00, 1.03, 1.00, 1.04, 1.00, 1.02, 1.04, 1.00, 1.03, 0.99, 1.00, 1.00],
    [1.02, 1.00, 1.05, 0.96, 1.06, 1.04, 1.00, 1.05, 1.01, 1.04, 1.06, 1.00, 1.06, 1.01, 0.99, 1.04, 0.98, 1.03, 1.05, 1.00,
     1.03, 1.01, 1.04, 0.98, 1.02, 1.06, 1.10, 1.30, 1.05, 1.02, 1.01, 0.95, 0.85, 1.00, 1.20, 1.05, 1.08, 1.05, 1.20, 1.01,
     1.04, 1.06, 1.02, 1.06, 1.04, 1.00, 1.03, 0.99, 0.87, 1.03, 1.05, 1.02, 1.00, 1.20, 0.98, 0.90, 1.02, 1.06, 1.04, 1.01,
     1.03, 1.05, 1.01, 1.06, 1.02, 1.04, 1.00, 1.05, 1.03, 1.01, 0.98, 0.87, 1.02, 1.05, 1.20, 1.02, 1.07, 1.03, 1.01, 1.04,
     1.02, 1.05, 1.03, 1.06, 1.01, 1.05, 1.02, 1.04, 1.01, 1.05, 1.02, 1.05, 1.02, 1.06, 1.00, 1.03, 1.06, 1.01, 1.04, 1.20, 1.12],
    [0.88, 0.95, 0.90, 0.93, 0.92, 0.97, 0.90, 0.96, 0.92, 0.95, 0.96, 0.92, 0.93, 0.95, 0.90, 0.97, 0.88, 0.96, 0.97, 0.92,
     0.96, 0.92, 0.97, 0.90, 0.94, 0.97, 0.98, 0.95, 0.98, 0.93, 0.95, 0.88, 0.76, 0.93, 0.96, 0.98, 1.00, 0.96, 0.95, 0.93,
     0.96, 0.98, 0.94, 0.98, 0.96, 0.92, 0.95, 0.91, 0.78, 0.95, 0.97, 0.94, 0.92, 0.98, 0.90, 0.82, 0.94, 0.98, 0.96, 0.93,
     0.95, 0.97, 0.93, 0.98, 0.94, 0.96, 0.92, 0.97, 0.95, 0.93, 0.90, 0.79, 0.94, 0.97, 0.98, 0.94, 0.99, 0.95, 0.93, 0.96,
     0.94, 0.97, 0.95, 0.98, 0.93, 0.97, 0.94, 0.96, 0.93, 0.97, 0.94, 0.97, 0.94, 0.98, 0.92, 0.95, 0.98, 0.93, 0.96, 0.97, 0.99],
    [1.10, 1.03, 1.08, 1.02, 1.12, 1.06, 1.02, 1.10, 1.04, 1.08, 1.12, 1.02, 1.10, 1.05, 1.02, 1.08, 1.00, 1.06, 1.10, 1.03,
     1.06, 1.05, 1.08, 1.00, 1.05, 1.10, 1.14, 1.06, 1.12, 1.05, 1.05, 0.98, 0.88, 1.04, 1.08, 1.10, 1.14, 1.08, 1.06, 1.04,
     1.08, 1.14, 1.05, 1.12, 1.08, 1.03, 1.06, 1.02, 0.90, 1.06, 1.12, 1.05, 1.02, 1.14, 1.00, 0.92, 1.05, 1.12, 1.08, 1.04,
     1.06, 1.10, 1.04, 1.12, 1.05, 1.08, 1.03, 1.10, 1.06, 1.04, 1.00, 0.90, 1.05, 1.10, 1.12, 1.05, 1.14, 1.06, 1.04, 1.08,
     1.05, 1.10, 1.06, 1.12, 1.04, 1.10, 1.05, 1.08, 1.04, 1.10, 1.05, 1.10, 1.05, 1.12, 1.03, 1.06, 1.12, 1.04, 1.10, 1.14, 1.30],
    [0.98, 1.05, 0.93, 1.08, 1.00, 0.95, 1.10, 1.03, 0.92, 1.06, 0.96, 1.08, 1.00, 1.12, 0.94, 1.03, 1.08, 0.92, 1.05, 1.10,
     0.95, 1.06, 0.98, 1.04, 0.93, 1.02, 1.08, 0.97, 1.05, 1.10, 0.96, 0.90, 0.80, 0.98, 1.06, 1.00, 1.12, 1.04, 0.96, 1.08,
     1.02, 0.95, 1.10, 0.98, 1.06, 0.94, 1.10, 1.03, 0.84, 0.98, 1.08, 0.96, 1.05, 1.02, 0.95, 0.86, 1.08, 1.02, 0.96, 1.05,
     1.00, 1.08, 0.96, 1.04, 1.10, 0.98, 1.06, 0.95, 1.08, 1.02, 0.93, 0.84, 1.04, 1.12, 0.98, 1.06, 1.00, 1.10, 0.96, 1.05,
     0.98, 1.08, 0.95, 1.06, 1.02, 0.96, 1.10, 0.98, 1.05, 0.94, 1.07, 1.00, 0.95, 1.08, 0.98, 1.03, 0.95, 1.08, 1.00, 1.06, 1.15],
    [1.04, 0.94, 1.08, 0.92, 1.05, 1.10, 0.95, 1.00, 1.06, 0.90, 1.02, 0.96, 1.10, 0.94, 1.00, 1.08, 0.92, 1.05, 0.98, 1.06,
     1.10, 0.96, 1.02, 0.95, 1.08, 0.98, 1.04, 1.10, 0.94, 1.00, 1.04, 0.92, 0.86, 1.04, 0.98, 1.10, 1.02, 1.08, 1.04, 0.96,
     1.08, 1.02, 0.96, 1.10, 1.00, 1.06, 0.96, 1.08, 0.88, 1.04, 0.98, 1.10, 0.96, 1.06, 1.04, 0.92, 0.98, 1.08, 1.04, 0.98,
     1.06, 1.00, 1.08, 0.98, 1.04, 1.10, 0.96, 1.04, 0.98, 1.08, 1.02, 0.92, 1.08, 1.00, 1.06, 0.98, 1.08, 1.02, 1.06, 0.98,
     1.06, 0.98, 1.08, 1.02, 0.96, 1.08, 1.00, 1.06, 0.98, 1.04, 1.00, 1.08, 1.02, 0.96, 1.06, 1.00, 1.08, 0.98, 1.04, 1.10, 1.02],
    [0.94, 1.02, 0.98, 1.04, 0.90, 1.00, 1.04, 0.96, 1.02, 0.98, 1.04, 0.94, 1.00, 1.06, 0.98, 0.92, 1.04, 1.00, 0.96, 1.02,
     0.98, 1.04, 0.94, 1.00, 1.04, 0.94, 1.00, 1.06, 0.96, 1.04, 0.96, 0.94, 0.82, 0.96, 1.04, 1.00, 1.06, 0.98, 1.00, 1.04,
     0.98, 1.04, 0.98, 1.02, 0.96, 1.04, 0.98, 1.02, 0.82, 0.98, 1.04, 1.00, 0.96, 1.04, 0.94, 0.84, 0.98, 1.04, 1.00, 0.98,
     1.02, 0.96, 1.04, 1.00, 0.96, 1.02, 1.00, 0.98, 1.04, 0.98, 0.94, 0.82, 1.00, 1.04, 1.00, 0.98, 1.04, 0.98, 1.02, 1.00,
     1.02, 0.96, 1.04, 0.98, 1.02, 1.00, 0.96, 1.04, 0.98, 1.02, 0.96, 1.04, 0.98, 1.02, 0.96, 0.98, 1.02, 0.96, 1.00, 1.04, 1.08],
]

# e: number of trees
trees_solid = [
    500, 501, 503, 506, 510, 514, 518, 521, 525, 527, 530, 532, 535, 537, 540, 542, 544, 547, 552, 557,
    560, 562, 565, 567, 570, 572, 574, 576, 578, 579, 580, 581, 582, 583, 584, 585, 585, 586, 587, 587,
    588, 589, 589, 590, 590, 591, 592, 592, 593, 593, 593, 594, 594, 594, 595, 595, 595, 596, 596, 596,
    597, 597, 597, 598, 598, 598, 598, 599, 599, 599, 599, 599, 600, 600, 600, 600, 600, 600, 600, 600,
    600, 600, 600, 600, 600, 600, 600, 600, 600, 600, 600, 600, 600, 600, 600, 599, 598, 597, 595, 592, 525]
trees_dashed = [
    341, 343, 346, 350, 354, 358, 362, 366, 370, 373, 377, 380, 383, 386, 389, 392, 395, 397, 399, 401,
    403, 405, 407, 409, 411, 413, 414, 415, 416, 417, 418, 422, 430, 438, 444, 447, 450, 452, 454, 456,
    458, 460, 462, 464, 465, 466, 467, 468, 469, 470, 470, 471, 471, 472, 472, 472, 473, 473, 473, 473,
    474, 474, 474, 474, 474, 475, 475, 475, 475, 475, 475, 475, 475, 475, 475, 475, 475, 475, 475, 475,
    475, 475, 475, 475, 475, 475, 475, 475, 475, 475, 475, 475, 475, 474, 474, 474, 474, 474, 474, 474, 470]

year_ticks = list(range(1908, 2009, 10))

W, H = 610, 615
fig = plt.figure(figsize=(W / 100, H / 100), dpi=100)
AXC = '#333333'
LW = 0.85


def panel(top, bottom, ylim, yticks, ylabel, letter, letter_y):
    ax = fig.add_axes([51 / W, 1 - bottom / H, 555.5 / W, (bottom - top) / H])
    ax.set_xlim(1904, 2010)
    ax.set_ylim(*ylim)
    for s in ['top', 'right', 'bottom']:
        ax.spines[s].set_visible(False)
    ax.spines['left'].set_bounds(yticks[0], yticks[-1])
    ax.spines['left'].set_color(AXC)
    ax.spines['left'].set_linewidth(0.7)
    ax.set_yticks(yticks)
    ax.tick_params(axis='y', length=3, width=0.7, pad=2, labelsize=7, colors=AXC, labelcolor='#222222')
    ax.set_xticks([])
    ax.set_ylabel(ylabel, fontsize=9.3)
    ax.yaxis.set_label_coords(-27 / 555.5, 0.5)
    fig.text(604 / W, 1 - letter_y / H, letter, fontsize=10, fontweight='bold', ha='center', va='center')
    return ax


ax_a = panel(7, 116, (-0.24, 6.24), [0, 1, 2, 3, 4, 5, 6], 'Tree\u2013ring width, mm', 'a', 13)
for s in ring_width:
    ax_a.plot(years, s, color='#111111', lw=LW)

ax_b = panel(126, 234, (-0.08, 2.08), [0.0, 0.5, 1.0, 1.5, 2.0], 'Tree\u2013ring index', 'b', 137)
ax_b.set_yticklabels(['0.0', '0.5', '1.0', '1.5', '2.0'])
for s in ring_index:
    ax_b.plot(years, s, color='#111111', lw=LW)

ax_c = panel(245, 353, (-24, 624), [0, 100, 200, 300, 400, 500, 600], 'VLA, 10$^{-4}$mm$^{2}$', 'c', 250)
for s in vla:
    ax_c.plot(years, s, color='#111111', lw=LW)

ax_d = panel(372.3, 472.7, (-0.08, 2.08), [0.0, 0.5, 1.0, 1.5, 2.0], 'VLA index', 'd', 378)
ax_d.set_yticklabels(['0.0', '0.5', '1.0', '1.5', '2.0'])
for s in vla_index:
    ax_d.plot(years, s, color='#111111', lw=LW)

ax_e = panel(485, 593, (288, 612), [300, 450, 600], 'Number of trees', 'e', 495)
ax_e.plot(years, trees_solid, color='black', lw=1.4)
ax_e.plot(years, trees_dashed, color='black', lw=1.4, dashes=(4.5, 4.5))
ax_e.spines['bottom'].set_visible(True)
ax_e.spines['bottom'].set_bounds(1908, 2008)
ax_e.spines['bottom'].set_position(('outward', 3))
ax_e.spines['bottom'].set_color(AXC)
ax_e.spines['bottom'].set_linewidth(0.7)
ax_e.set_xticks(year_ticks)
ax_e.tick_params(axis='x', length=4, width=0.7, pad=2, labelsize=7, colors=AXC, labelcolor='#222222')

fig.savefig('out.png', dpi=100)
